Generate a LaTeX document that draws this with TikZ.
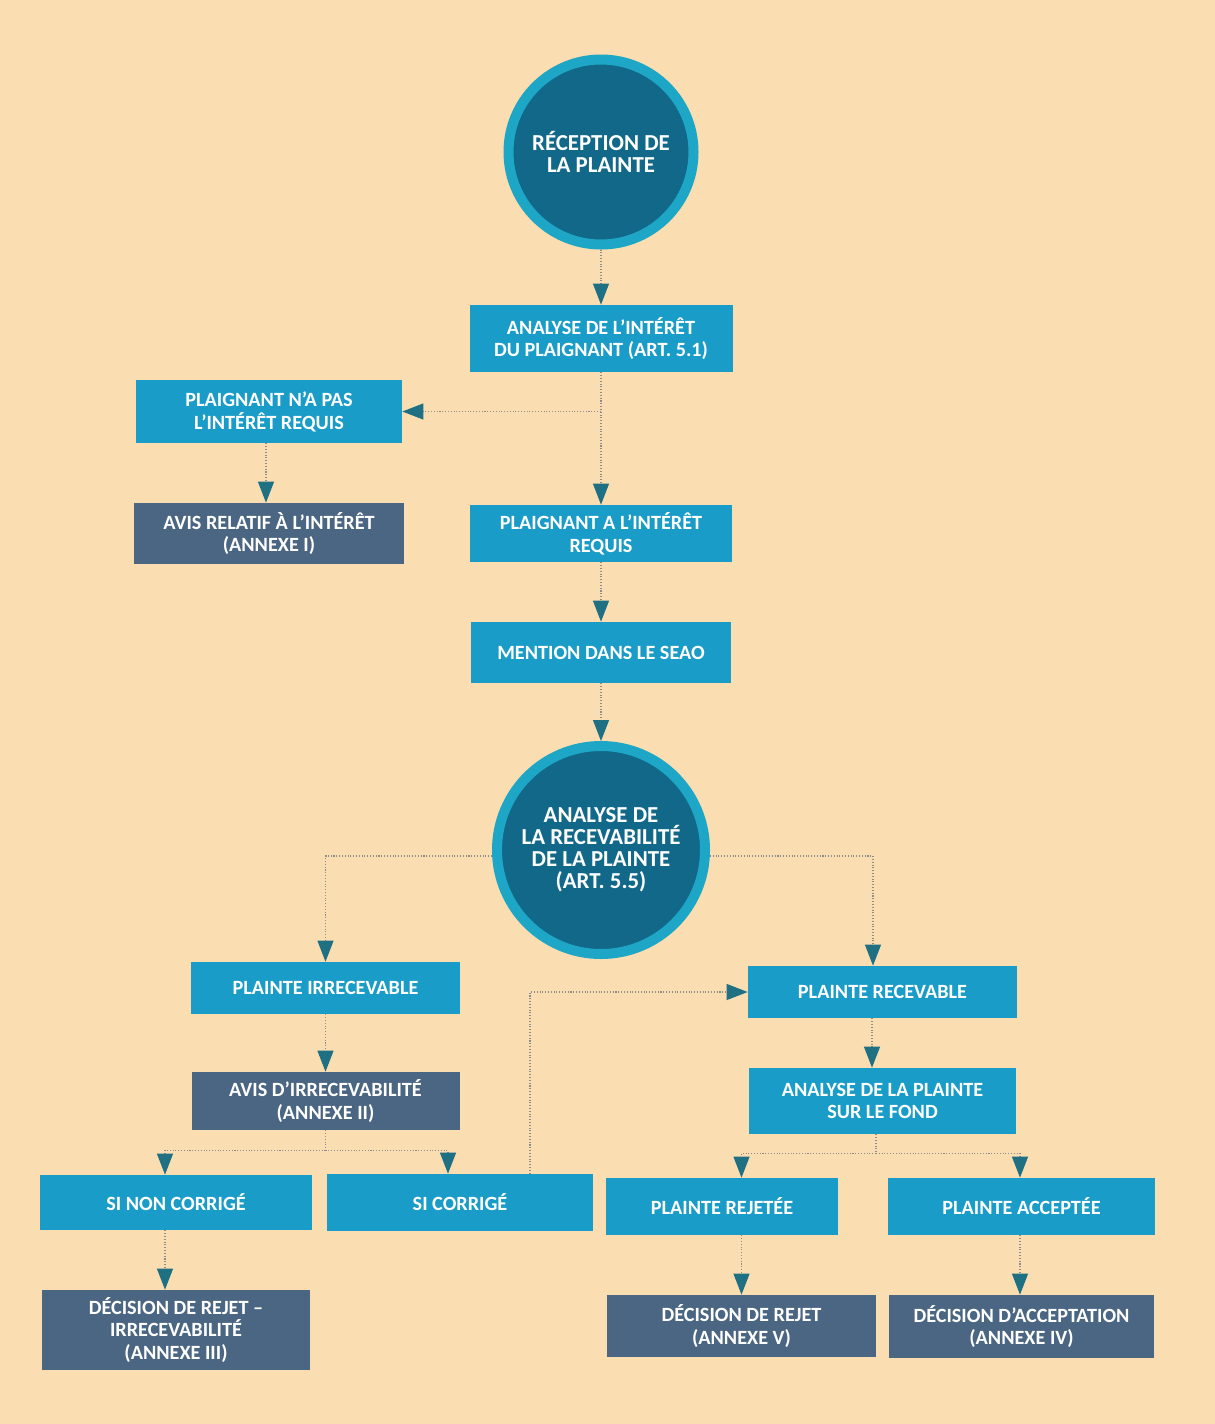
\documentclass[tikz,border=0pt]{standalone}
\usepackage{fontspec}
\setmainfont{Carlito}
\usetikzlibrary{arrows.meta,positioning}

\definecolor{peach}{RGB}{250,221,177}
\definecolor{boxblue}{RGB}{26,156,200}
\definecolor{boxslate}{RGB}{74,102,130}
\definecolor{circdark}{RGB}{17,104,136}
\definecolor{circring}{RGB}{30,166,198}
\definecolor{tipteal}{RGB}{32,112,132}
\definecolor{dotgrey}{RGB}{140,140,140}

\begin{document}
\begin{tikzpicture}[bluebox/.style={rectangle,
					fill=boxblue,
					text=white,
					inner sep=0pt,
					align=center,
					font=\bfseries\fontsize{11.5}{13}\selectfont},
					slatebox/.style={bluebox,
					fill=boxslate},
					roundstep/.style={circle,
					fill=circdark,
					draw=circring,
					line width=0.2cm,
					text=white,
					align=center,
					font=\bfseries\fontsize{13}{12.5}\selectfont},
					flow/.style={densely dotted,
					draw=dotgrey,
					line width=0.6pt,
					-{Triangle[length=0.42cm,width=0.32cm,color=tipteal,fill=tipteal]}},
					split/.style={densely dotted,
					draw=dotgrey,
					line width=0.6pt}
					]

% background and page size
\fill[peach] (0,0) rectangle (24.3,-28.48);
\useasboundingbox (0,0) rectangle (24.3,-28.48);

%first part: interest of the complainant
\node[roundstep, minimum size=3.7cm] (recep) at (12.02,-3.04) {RÉCEPTION DE\\LA PLAINTE};
\node[bluebox, minimum width=5.26cm, minimum height=1.34cm] (interet) [below of = recep, node distance=3.73cm] {ANALYSE DE L’INTÉRÊT\\DU PLAIGNANT (ART. 5.1)};
\node[bluebox, minimum width=5.32cm, minimum height=1.26cm] (napas) at (5.38,-8.23) {PLAIGNANT N’A PAS\\L’INTÉRÊT REQUIS};
\node[slatebox, minimum width=5.4cm, minimum height=1.22cm] (avisint) [below of = napas, node distance=2.44cm] {AVIS RELATIF À L’INTÉRÊT\\(ANNEXE I)};
\node[bluebox, minimum width=5.24cm, minimum height=1.14cm] (ainteret) [below of = interet, node distance=3.9cm] {PLAIGNANT A L’INTÉRÊT\\REQUIS};
\node[bluebox, minimum width=5.2cm, minimum height=1.22cm] (seao) [below of = ainteret, node distance=2.38cm] {MENTION DANS LE SEAO};

%second part: admissibility
\node[roundstep, minimum size=4.16cm] (recev) [below of = seao, node distance=3.95cm] {ANALYSE DE\\LA RECEVABILITÉ\\DE LA PLAINTE\\(ART. 5.5)};
\node[bluebox, minimum width=5.38cm, minimum height=1.04cm] (irrecev) at (6.51,-19.76) {PLAINTE IRRECEVABLE};
\node[slatebox, minimum width=5.36cm, minimum height=1.16cm] (avisirr) [below of = irrecev, node distance=2.26cm] {AVIS D’IRRECEVABILITÉ\\(ANNEXE II)};
\node[bluebox, minimum width=5.38cm, minimum height=1.04cm] (recevable) at (17.65,-19.84) {PLAINTE RECEVABLE};
\node[bluebox, minimum width=5.34cm, minimum height=1.32cm] (fond) [below of = recevable, node distance=2.18cm] {ANALYSE DE LA PLAINTE\\SUR LE FOND};

%outcomes
\node[bluebox, minimum width=5.44cm, minimum height=1.1cm] (noncorr) at (3.52,-24.05) {SI NON CORRIGÉ};
\node[bluebox, minimum width=5.32cm, minimum height=1.14cm] (corr) [right of = noncorr, node distance=5.68cm] {SI CORRIGÉ};
\node[bluebox, minimum width=4.64cm, minimum height=1.14cm] (rejetee) at (14.44,-24.13) {PLAINTE REJETÉE};
\node[bluebox, minimum width=5.34cm, minimum height=1.14cm] (acceptee) [right of = rejetee, node distance=5.99cm] {PLAINTE ACCEPTÉE};
\node[slatebox, minimum width=5.36cm, minimum height=1.6cm] (decirr) [below of = noncorr, node distance=2.55cm] {DÉCISION DE REJET –\\IRRECEVABILITÉ\\(ANNEXE III)};
\node[slatebox, minimum width=5.38cm, minimum height=1.24cm] (decrej) at (14.83,-26.52) {DÉCISION DE REJET\\(ANNEXE V)};
\node[slatebox, minimum width=5.3cm, minimum height=1.26cm] (decacc) [below of = acceptee, node distance=2.4cm] {DÉCISION D’ACCEPTATION\\(ANNEXE IV)};

% Arrows
\draw[flow] (recep) -- (interet);
\draw[flow] (interet.south) |- (napas.east);
\draw[flow] (interet.south) -- (interet.south |- ainteret.north);
\draw[flow] ([xshift=-0.06cm]napas.south) -- ([xshift=-0.06cm]napas.south |- avisint.north);
\draw[flow] (ainteret.south -| seao.north) -- (seao.north);
\draw[flow] (seao) -- (recev);

\draw[flow] ([yshift=-0.12cm]recev.west) -| (irrecev.north);
\draw[flow] ([yshift=-0.12cm]recev.east) -| ([xshift=-0.19cm]recevable.north);
\draw[flow] (irrecev.south) -- (irrecev.south |- avisirr.north);
\draw[split] (avisirr.south) -- ++(0,-0.4) coordinate (avis_split);
\draw[flow] (avis_split) -| ([xshift=-0.22cm]noncorr.north);
\draw[flow] (avis_split) -| ([xshift=-0.24cm]corr.north);
\draw[flow] ([xshift=1.4cm]corr.north) |- (recevable.west);

\draw[flow] ([xshift=-0.21cm]recevable.south) -- ([xshift=-0.21cm]recevable.south |- fond.north);
\draw[split] ([xshift=-0.13cm]fond.south) -- ++(0,-0.38) coordinate (fond_split);
\draw[flow] (fond_split) -| (rejetee.north -| decrej.north);
\draw[flow] (fond_split) -| ([xshift=-0.03cm]acceptee.north);

\draw[flow] ([xshift=-0.22cm]noncorr.south) -- ([xshift=-0.22cm]noncorr.south |- decirr.north);
\draw[flow] (rejetee.south -| decrej.north) -- (decrej.north);
\draw[flow] ([xshift=-0.03cm]acceptee.south) -- ([xshift=-0.03cm]acceptee.south |- decacc.north);

\end{tikzpicture}
\end{document}
